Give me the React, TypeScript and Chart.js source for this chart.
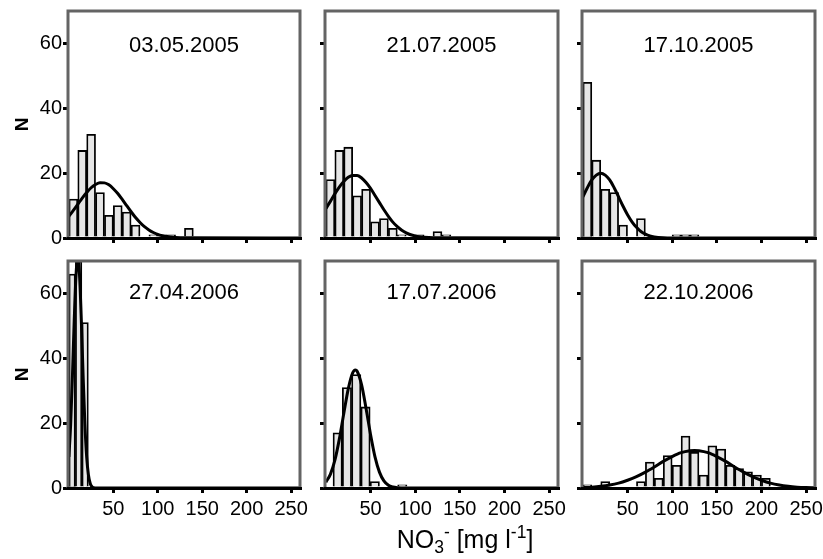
import React, { useEffect, useRef } from "react";
import { Chart, registerables } from "chart.js";

Chart.register(...registerables);

const FONT = "'Liberation Sans', Arial, Helvetica, sans-serif";

// ---------- data ----------
const titles = ["03.05.2005", "21.07.2005", "17.10.2005", "27.04.2006", "17.07.2006", "22.10.2006"];
const xTicks = [50, 100, 150, 200, 250];
const yTicks = [0, 20, 40, 60];

// histogram bin centres (mg/l) and counts
const bins1 = [5, 15, 25, 35, 45, 55, 65, 75, 95, 105, 115, 135];
const counts1 = [12, 27, 32, 14, 7, 10, 8, 4, 1, 1, 1, 3];
const bins2 = [5, 15, 25, 35, 45, 55, 65, 75, 85, 105, 125, 135];
const counts2 = [18, 27, 28, 13, 15, 5, 6, 3, 1, 1, 2, 1];
const bins3 = [5, 15, 25, 35, 45, 65, 105, 115, 125];
const counts3 = [48, 24, 15, 14, 4, 6, 1, 1, 1];
const bins4 = [3.65, 10.95, 18.25];
const counts4 = [66, 70, 51];
const bins5 = [13.2, 23.6, 34, 44.4, 54.8, 85.6];
const counts5 = [17, 31, 35, 25, 2, 1];
const bins6 = [5, 25, 65, 75, 85, 95, 105, 115, 125, 135, 145, 155, 165, 175, 185, 195, 205];
const counts6 = [1, 2, 2, 8, 3, 10, 7, 16, 11, 4, 13, 12, 7, 6, 5, 4, 3];

// fitted normal curves
const curveX1 = [0, 5, 10, 15, 20, 25, 30, 35, 40, 45, 50, 55, 60, 65, 70, 75, 80, 85, 90, 95, 100, 105, 110, 120, 130, 260];
const curveY1 = [6.7, 8.5, 10.4, 12.3, 14.0, 15.5, 16.5, 17.05, 17.0, 16.4, 15.2, 13.7, 11.9, 10.0, 8.1, 6.3, 4.8, 3.5, 2.5, 1.7, 1.1, 0.7, 0.44, 0.15, 0.04, 0];
const curveX2 = [0, 5, 10, 15, 20, 25, 30, 35, 40, 45, 50, 55, 60, 65, 70, 75, 80, 85, 90, 95, 100, 105, 110, 120, 260];
const curveY2 = [9.1, 11.3, 13.6, 15.7, 17.4, 18.7, 19.3, 19.3, 18.5, 17.1, 15.3, 13.1, 10.9, 8.7, 6.7, 4.9, 3.5, 2.4, 1.6, 1.0, 0.63, 0.38, 0.21, 0.06, 0];
const curveX3 = [0, 5, 10, 15, 20, 25, 30, 35, 40, 45, 50, 55, 60, 65, 70, 75, 80, 90, 100, 260];
const curveY3 = [12.7, 15.5, 17.9, 19.4, 20, 19.4, 17.9, 15.5, 12.7, 9.8, 7.2, 5.0, 3.3, 2.0, 1.2, 0.65, 0.34, 0.08, 0.01, 0];
const curveX4 = [0, 2, 4, 6, 8, 10, 12, 14, 16, 18, 20, 22, 24, 26, 28, 30, 260];
const curveY4 = [9.6, 19.7, 34.6, 51.6, 65.5, 71, 65.5, 51.6, 34.6, 19.7, 9.6, 4.0, 1.4, 0.4, 0.1, 0, 0];
const curveX5 = [0, 5, 10, 15, 20, 25, 30, 33, 35, 40, 45, 50, 55, 60, 65, 70, 75, 80, 90, 260];
const curveY5 = [1.8, 4.2, 8.5, 15.0, 22.9, 30.5, 35.5, 36.4, 36.0, 31.8, 24.5, 16.5, 9.6, 4.9, 2.2, 0.85, 0.29, 0.08, 0, 0];
const curveX6 = [0, 10, 20, 30, 40, 50, 60, 70, 80, 90, 100, 110, 120, 125, 130, 140, 150, 160, 170, 180, 190, 200, 210, 220, 230, 240, 250, 260];
const curveY6 = [0.14, 0.27, 0.51, 0.9, 1.5, 2.4, 3.5, 4.9, 6.5, 8.2, 9.7, 10.9, 11.5, 11.6, 11.5, 10.9, 9.7, 8.2, 6.5, 4.9, 3.5, 2.4, 1.5, 0.9, 0.51, 0.27, 0.14, 0.07];

const binsAll = [bins1, bins2, bins3, bins4, bins5, bins6];
const countsAll = [counts1, counts2, counts3, counts4, counts5, counts6];
const curveXAll = [curveX1, curveX2, curveX3, curveX4, curveX5, curveX6];
const curveYAll = [curveY1, curveY2, curveY3, curveY4, curveY5, curveY6];

// ---------- layout ----------
const COL_L = [68, 325, 582];
const COL_R = [300, 558, 815];
const ROW_T = [11, 261];
const ROW_B = [238, 488];
const TITLE_OFF = [34.5, 32];
const PAD_T = 16;
const PAD_R = 22;
const Y_W = 68;
const X_H = 50;

const framePlugin = {
  id: "frame",
  afterDatasetsDraw(chart: any, _args: any, opts: any) {
    const { ctx, chartArea } = chart;
    const { left, right, top, bottom } = chartArea;
    ctx.save();
    ctx.strokeStyle = "#646464";
    ctx.lineWidth = 3;
    ctx.beginPath();
    ctx.moveTo(left, bottom);
    ctx.lineTo(left, top);
    ctx.lineTo(right, top);
    ctx.lineTo(right, bottom);
    ctx.stroke();
    ctx.fillStyle = "#000";
    ctx.font = `22px ${FONT}`;
    ctx.textAlign = "center";
    ctx.textBaseline = "middle";
    ctx.fillText(opts.text, (left + right) / 2, top + opts.offset);
    ctx.restore();
  },
};

function Panel({ idx }: { idx: number }) {
  const ref = useRef<HTMLCanvasElement>(null);
  const row = Math.floor(idx / 3);
  const col = idx % 3;
  const L = COL_L[col], R = COL_R[col], T = ROW_T[row], B = ROW_B[row];
  const cw = R - L + Y_W + PAD_R;
  const ch = B - T + PAD_T + X_H;
  const left = L - Y_W;
  const top = T - PAD_T;

  useEffect(() => {
    const bx = binsAll[idx], by = countsAll[idx];
    const cx = curveXAll[idx], cy = curveYAll[idx];
    const gridOpts = {
      offset: false,
      drawOnChartArea: false,
      drawTicks: true,
      tickLength: 5,
      tickWidth: 3,
      lineWidth: 3,
      tickColor: "#000",
      color: "#000",
    };
    const chart = new Chart(ref.current as HTMLCanvasElement, {
      type: "bar",
      data: {
        datasets: [
          {
            type: "line",
            data: cx.map((x, i) => ({ x, y: cy[i] })),
            borderColor: "#000",
            borderWidth: 3,
            pointRadius: 0,
            cubicInterpolationMode: "monotone",
            fill: false,
            order: 0,
          } as any,
          {
            type: "bar",
            data: bx.map((x, i) => ({ x, y: by[i] })),
            backgroundColor: "#e6e6e6",
            borderColor: "#000",
            borderWidth: 1.8,
            barPercentage: 1,
            categoryPercentage: 1,
            order: 1,
          } as any,
        ],
      },
      options: {
        animation: false,
        responsive: false,
        maintainAspectRatio: false,
        events: [],
        layout: { padding: { left: 0, top: PAD_T, right: PAD_R, bottom: 0 } },
        plugins: {
          legend: { display: false },
          tooltip: { enabled: false },
          title: { display: false },
          frame: { text: titles[idx], offset: TITLE_OFF[row] },
        } as any,
        scales: {
          x: {
            type: "linear",
            min: -1,
            max: 260,
            offset: false,
            grid: gridOpts,
            border: { display: true, color: "#000", width: 3, z: 1 },
            ticks: {
              display: row === 1,
              font: { family: FONT, size: 20 },
              color: "#000",
              padding: 4,
              maxRotation: 0,
              autoSkip: false,
            },
            afterBuildTicks: (s: any) => {
              s.ticks = xTicks.map((v) => ({ value: v }));
            },
            afterFit: (s: any) => {
              s.height = X_H;
            },
          },
          y: {
            type: "linear",
            min: 0,
            max: 70,
            grid: gridOpts,
            border: { display: false },
            ticks: {
              display: col === 0,
              font: { family: FONT, size: 20 },
              color: "#000",
              padding: 1,
            },
            title: {
              display: col === 0,
              text: "N",
              font: { family: FONT, size: 19, weight: "bold" },
              color: "#000",
              padding: { top: 11, bottom: 0 },
            },
            afterBuildTicks: (s: any) => {
              s.ticks = yTicks.map((v) => ({ value: v }));
            },
            afterFit: (s: any) => {
              s.width = Y_W;
            },
          },
        } as any,
      },
      plugins: [framePlugin as any],
    });
    return () => chart.destroy();
  }, [idx]);

  return (
    <canvas
      ref={ref}
      width={cw}
      height={ch}
      style={{ position: "absolute", left, top, width: cw, height: ch }}
    />
  );
}

export default function App() {
  return (
    <div
      style={{
        position: "absolute",
        left: 0,
        top: 0,
        width: 823,
        height: 559,
        background: "#fff",
        overflow: "hidden",
      }}
    >
      {[0, 1, 2, 3, 4, 5].map((i) => (
        <Panel key={i} idx={i} />
      ))}
      <div
        style={{
          position: "absolute",
          left: 315,
          top: 527,
          width: 300,
          textAlign: "center",
          fontFamily: FONT,
          fontSize: 25,
          lineHeight: "25px",
          color: "#000",
          whiteSpace: "nowrap",
        }}
      >
        NO<sub style={{ fontSize: "0.7em", lineHeight: 0, verticalAlign: "-0.3em" }}>3</sub>
        <sup style={{ fontSize: "0.7em", lineHeight: 0, verticalAlign: "0.55em" }}>-</sup> [mg l
        <sup style={{ fontSize: "0.7em", lineHeight: 0, verticalAlign: "0.55em" }}>-1</sup>]
      </div>
    </div>
  );
}
